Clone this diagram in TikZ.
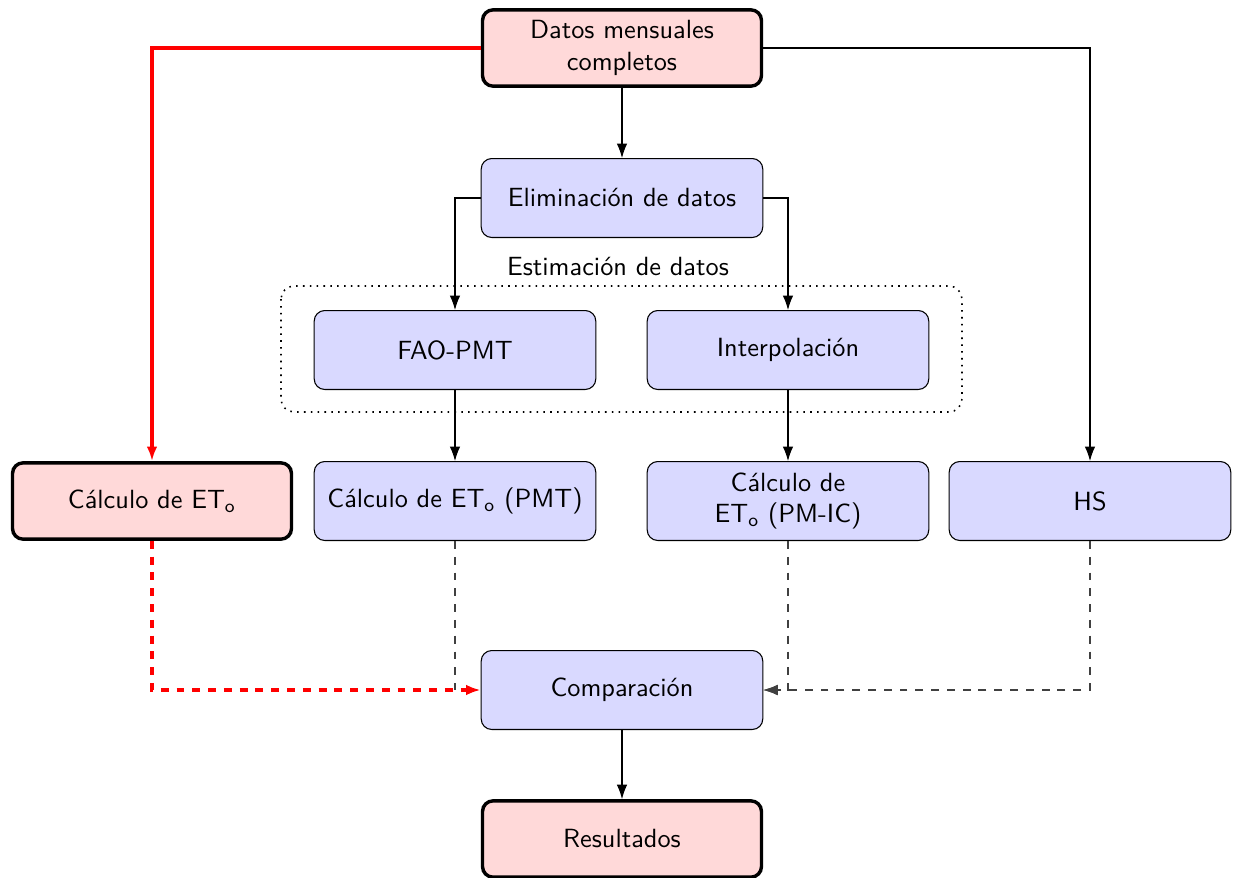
\documentclass[tikz,border=0pt]{standalone}
\usetikzlibrary{arrows.meta}
\renewcommand{\familydefault}{\sfdefault}
\begin{document}
\begin{tikzpicture}[x=0.38pt,y=-0.38pt,
  font=\sffamily,
  box/.style={draw, rounded corners=4pt, minimum width=107pt, minimum height=30pt, align=center, inner sep=2pt},
  bluebox/.style={box, fill=blue!15, line width=0.4pt},
  redbox/.style={box, fill=red!15, line width=1.3pt, minimum width=106pt, minimum height=29pt},
  arr/.style={-{Latex[length=5.5pt,width=4pt]}, line width=0.4pt},
  redarr/.style={-{Latex[length=5.5pt,width=4pt]}, red, line width=1.2pt},
  dasharr/.style={-{Latex[length=5.5pt,width=4pt]}, dashed, black!75, line width=0.4pt}
]
\useasboundingbox (0,0) rectangle (1233,878);
\node[redbox] (datos) at (622,48) {Datos mensuales\\completos};
\node[bluebox] (elim) at (622,198) {Eliminación de datos};
\node (estlab) at (618,267) {Estimación de datos};
\draw[dotted, line width=0.6pt, rounded corners=5pt] (281,286) rectangle (962,412);
\node[bluebox] (fao) at (455,350) {FAO-PMT};
\node[bluebox] (interp) at (788,350) {Interpolación};
\node[redbox] (calc) at (152,501) {Cálculo de ET\textsubscript{o}};
\node[bluebox] (calcpmt) at (455,501) {Cálculo de ET\textsubscript{o} (PMT)};
\node[bluebox] (calcpmic) at (788,501) {Cálculo de\\ET\textsubscript{o} (PM-IC)};
\node[bluebox] (hs) at (1090,501) {HS};
\node[bluebox] (comp) at (622,690) {Comparación};
\node[redbox] (res) at (622,839) {Resultados};

\draw[arr] (datos) -- (elim);
\draw[redarr] (datos.west) -| (calc.north);
\draw[arr] (datos.east) -| (hs.north);
\draw[arr] (elim.west) -| (fao.north);
\draw[arr] (elim.east) -| (interp.north);
\draw[arr] (fao) -- (calcpmt);
\draw[arr] (interp) -- (calcpmic);
\draw[dashed, black!75, line width=0.4pt] (calcpmt.south) -- (calcpmt.south |- comp.west);
\draw[dasharr] (calcpmic.south) |- (comp.east);
\draw[dasharr] (hs.south) |- (comp.east);
\draw[redarr, dashed] (calc.south) |- (comp.west);
\draw[arr] (comp) -- (res);
\end{tikzpicture}
\end{document}
